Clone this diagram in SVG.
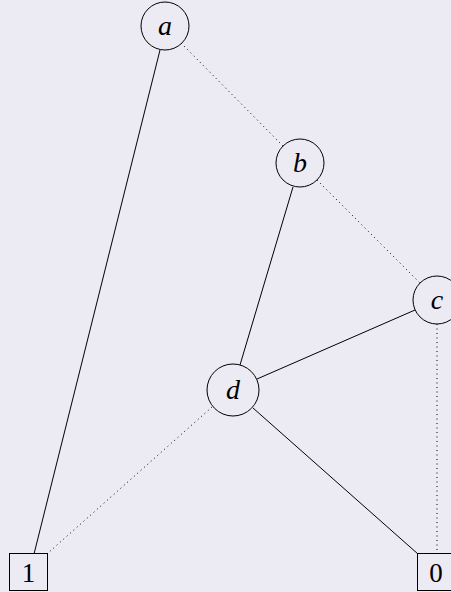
<svg xmlns="http://www.w3.org/2000/svg" width="451" height="592" viewBox="0 0 451 592">
<style>
.n{fill:none;stroke:#000;stroke-width:1}
.t{font-family:"Liberation Serif",serif;font-style:italic;font-size:28px;text-anchor:middle;fill:#000}
.u{font-family:"Liberation Serif",serif;font-size:27px;text-anchor:middle;fill:#000}
.s{stroke:#000;stroke-width:1;fill:none}
.d{stroke:#000;stroke-width:1;stroke-dasharray:1 3.5;fill:none}
</style>
<rect width="451" height="592" fill="#ECEAF2"/>
<g id="connectors">
<line class="s" x1="160" y1="50" x2="34" y2="554"/>
<line class="d" x1="181" y1="43" x2="283" y2="146"/>
<line class="s" x1="293" y1="187" x2="240" y2="365"/>
<line class="d" x1="317" y1="180" x2="420" y2="283"/>
<line class="s" x1="415" y1="310" x2="257" y2="379"/>
<line class="d" x1="437" y1="324" x2="437" y2="553"/>
<line class="d" x1="212" y1="407" x2="48" y2="553"/>
<line class="s" x1="253" y1="408" x2="418" y2="554"/>
</g>
<g id="a"><circle class="n" cx="165" cy="26" r="24"/><text class="t" x="165" y="35">a</text></g>
<g id="b"><circle class="n" cx="300" cy="163" r="24"/><text class="t" x="300" y="172">b</text></g>
<g id="c"><circle class="n" cx="437" cy="300" r="24"/><text class="t" x="437" y="309">c</text></g>
<g id="d"><circle class="n" cx="233" cy="390" r="26"/><text class="t" x="233" y="399">d</text></g>
<g id="one"><rect class="n" x="9.5" y="553.5" width="38" height="37"/><text class="u" x="28.5" y="582">1</text></g>
<g id="zero"><rect class="n" x="417.5" y="553.5" width="38" height="37"/><text class="u" x="436" y="582">0</text></g>
</svg>
